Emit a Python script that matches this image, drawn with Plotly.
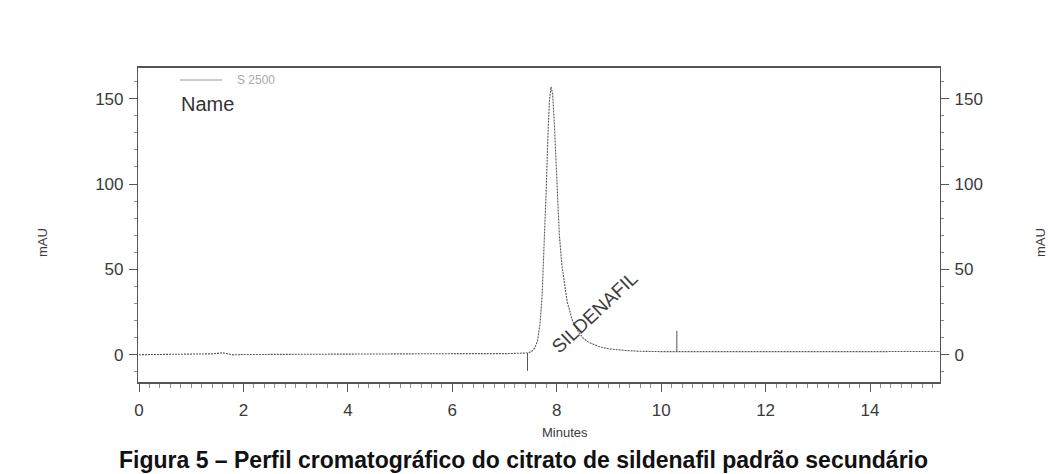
import plotly.graph_objects as go

# Chromatogram trace: retention time (min) vs absorbance (mAU)
time_min = [0.0, 0.5, 1.0, 1.4, 1.5, 1.6, 1.7, 1.8, 2.0, 3.0, 4.0, 5.0, 6.0, 7.0, 7.3, 7.45,
            7.52, 7.58, 7.63, 7.68, 7.72, 7.76, 7.80, 7.83, 7.86, 7.89, 7.92, 7.95, 7.98,
            8.01, 8.05, 8.10, 8.15, 8.20, 8.30, 8.40, 8.50, 8.60, 8.80, 9.00, 9.30, 9.60,
            10.0, 11.0, 12.0, 13.0, 14.0, 15.34]
absorbance_mau = [0.0, 0.1, 0.2, 0.5, 0.8, 1.1, 0.5, -0.1, 0.1, 0.3, 0.4, 0.5, 0.6, 0.6, 0.8, 1.0,
                  2.0, 4.0, 8.0, 18.0, 35.0, 62.0, 98.0, 128.0, 149.0, 157.0, 153.0, 138.0, 115.0,
                  92.0, 70.0, 52.0, 40.0, 31.0, 20.0, 14.0, 10.0, 7.5, 4.8, 3.4, 2.5, 2.0,
                  1.8, 1.7, 1.7, 1.8, 1.8, 1.9]

# Integration event marks (start below baseline, end above baseline)
event_times = [7.44, 10.3]
event_low = [-9.5, 2.0]
event_high = [1.0, 14.0]

peak_name = "SILDENAFIL"
peak_label_pos = (8.72, 25.0)

x_range = [-0.02, 15.34]
y_range = [-16, 168]
x_ticks = [0, 2, 4, 6, 8, 10, 12, 14]
y_ticks = [0, 50, 100, 150]

ink = "#3a3a3a"
axis_col = "#555555"
font_family = "Liberation Sans, Arial, sans-serif"

fig = go.Figure()

fig.add_trace(go.Scatter(
    x=time_min, y=absorbance_mau, mode="lines",
    line=dict(color="#5a5a5a", width=1.1, dash="2px,1px"),
    showlegend=False, hoverinfo="skip",
))

# vertical event ticks
ev_x, ev_y = [], []
for t, lo, hi in zip(event_times, event_low, event_high):
    ev_x += [t, t, None]
    ev_y += [lo, hi, None]
fig.add_trace(go.Scatter(
    x=ev_x, y=ev_y, mode="lines",
    line=dict(color="#555555", width=1),
    showlegend=False, hoverinfo="skip",
))

# invisible trace carrying the right-hand axis
fig.add_trace(go.Scatter(
    x=[x_range[0]], y=[0], yaxis="y2", mode="markers",
    marker=dict(opacity=0), showlegend=False, hoverinfo="skip",
))

tickfont = dict(family=font_family, size=17, color=ink)

fig.update_layout(
    width=1048, height=474,
    margin=dict(l=138, r=108, t=68, b=92),
    paper_bgcolor="white", plot_bgcolor="white",
    font=dict(family=font_family, color=ink),
    xaxis=dict(
        range=x_range, tickvals=x_ticks, showgrid=False, zeroline=False,
        showline=True, linecolor=axis_col, linewidth=1.5, mirror=True,
        ticks="outside", ticklen=8, tickwidth=1, tickcolor=axis_col,
        minor=dict(dtick=0.2, ticks="outside", ticklen=4, tickcolor="#8a8a8a"),
        tickfont=tickfont, ticklabelstandoff=4,
    ),
    yaxis=dict(
        range=y_range, tickvals=y_ticks, showgrid=False, zeroline=False,
        showline=True, linecolor=axis_col, linewidth=1.2,
        ticks="outside", ticklen=8, tickwidth=1, tickcolor=axis_col,
        minor=dict(dtick=10, ticks="outside", ticklen=3, tickcolor="#8a8a8a"),
        tickfont=tickfont, ticklabelstandoff=2,
    ),
    yaxis2=dict(
        range=y_range, tickvals=y_ticks, overlaying="y", side="right",
        showgrid=False, zeroline=False,
        showline=True, linecolor=axis_col, linewidth=1.2,
        ticks="outside", ticklen=8, tickwidth=1, tickcolor=axis_col,
        minor=dict(dtick=10, ticks="outside", ticklen=3, tickcolor="#8a8a8a"),
        tickfont=tickfont, ticklabelstandoff=2,
    ),
)

annotations = [
    # peak name
    dict(x=peak_label_pos[0], y=peak_label_pos[1], xref="x", yref="y",
         text=peak_name, showarrow=False, textangle=-43,
         font=dict(family=font_family, size=19, color="#3d3d3d")),
    # axis titles
    dict(x=42, y=243, xref="paper", yref="paper", text="mAU", showarrow=False,
         textangle=-90, font=dict(family=font_family, size=13, color=ink)),
    dict(x=565, y=432, xref="paper", yref="paper", text="Minutes", showarrow=False,
         font=dict(family=font_family, size=13, color=ink)),
    dict(x=1040, y=243, xref="paper", yref="paper", text="mAU", showarrow=False,
         textangle=-90, font=dict(family=font_family, size=13, color=ink)),
    # in-plot legend
    dict(x=235, y=80, xref="paper", yref="paper", text="S 2500", showarrow=False,
         xanchor="left", font=dict(family=font_family, size=12, color="#aaaaaa")),
    dict(x=179, y=104, xref="paper", yref="paper", text="Name", showarrow=False,
         xanchor="left", font=dict(family=font_family, size=20, color="#333333")),
    # figure caption
    dict(x=523, y=460, xref="paper", yref="paper",
         text="<b>Figura 5 – Perfil cromatográfico do citrato de sildenafil padrão secundário</b>",
         showarrow=False, font=dict(family=font_family, size=23, color="#111111")),
]

# convert pixel positions to paper coordinates, anchored on the text centre
pl, pr, pt, pb = 138, 940, 68, 382
for a in annotations:
    if a["xref"] == "paper":
        a["x"] = (a["x"] - pl) / (pr - pl)
        a["y"] = (pb - a["y"]) / (pb - pt)
        a["yanchor"] = "middle"
        a.setdefault("xanchor", "center")
fig.update_layout(annotations=annotations)

# legend sample line
fig.add_shape(type="line", xref="paper", yref="paper",
              x0=(180 - pl) / (pr - pl), x1=(222 - pl) / (pr - pl),
              y0=(pb - 80) / (pb - pt), y1=(pb - 80) / (pb - pt),
              line=dict(color="#9a9a9a", width=1))

fig.write_html("out.html")
